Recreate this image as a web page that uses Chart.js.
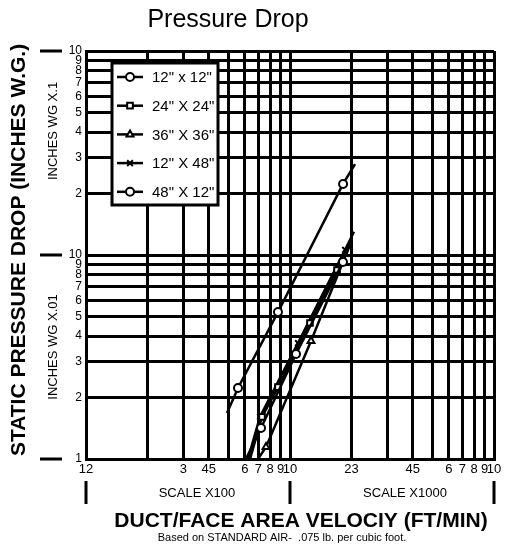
<!DOCTYPE html>
<html>
<head>
<meta charset="utf-8">
<title>Pressure Drop</title>
<script src="https://cdn.jsdelivr.net/npm/chart.js@4.4.0/dist/chart.umd.min.js"></script>
<style>
  html, body { margin: 0; padding: 0; background: #fff; }
</style>
</head>
<body>
<canvas id="chart" width="509" height="546"></canvas>
<script>
// series names and their marker shapes
var seriesNames = ['12" x 12"', '24" X 24"', '36" X 36"', '12" X 48"', '48" X 12"'];
var seriesMarkers = ['circle', 'rect', 'triangle', 'crossRot', 'circle'];

// velocity (ft/min) and pressure drop (in. w.g.)
// first and last point of each list are the ends of the drawn line (no marker)
var vel12x12 = [608, 721, 1070, 1818, 1946];
var dp12x12  = [0.0100, 0.0142, 0.0327, 0.0924, 0.112];

var vel24x24 = [637, 729, 873, 1253, 1700, 2014];
var dp24x24  = [0.0100, 0.0161, 0.0225, 0.0464, 0.0844, 0.122];

var vel36x36 = [697, 763, 1268, 1818, 1968];
var dp36x36  = [0.0100, 0.01145, 0.0379, 0.0924, 0.112];

var vel12x48 = [622, 713, 1094, 1862, 2059];
var dp12x48  = [0.0100, 0.0161, 0.0370, 0.106, 0.130];

var vel48x12 = [491, 556, 873, 1820, 2083];
var dp48x12  = [0.0168, 0.0223, 0.0525, 0.223, 0.279];

// log axis ticks and the labels printed under / beside them
var xTicks = [100, 200, 300, 400, 500, 600, 700, 800, 900, 1000,
              2000, 3000, 4000, 5000, 6000, 7000, 8000, 9000, 10000];
var xTickLabels = ['12', '', '3', '45', '', '6', '7', '8', '9', '10',
                   '23', '', '45', '', '6', '7', '8', '9', '10'];
var yTicks = [0.01, 0.02, 0.03, 0.04, 0.05, 0.06, 0.07, 0.08, 0.09, 0.1,
              0.2, 0.3, 0.4, 0.5, 0.6, 0.7, 0.8, 0.9, 1];
var yTickLabels = ['1', '2', '3', '4', '5', '6', '7', '8', '9', '10',
                   '2', '3', '4', '5', '6', '7', '8', '9', '10'];

var FONT = '"Liberation Sans", Arial, Helvetica, sans-serif';

function pts(xs, ys) {
  return xs.map(function(v, i) { return { x: v, y: ys[i] }; });
}

var allVel = [vel12x12, vel24x24, vel36x36, vel12x48, vel48x12];
var allDp  = [dp12x12, dp24x24, dp36x36, dp12x48, dp48x12];

var datasets = seriesNames.map(function(name, i) {
  return {
    label: name,
    data: pts(allVel[i], allDp[i]),
    borderColor: '#000',
    borderWidth: 2.5,
    backgroundColor: '#fff',
    pointStyle: seriesMarkers[i],
    pointBorderColor: '#000',
    pointBackgroundColor: '#fff',
    pointBorderWidth: 2,
    pointRadius: function(c) {
      var n = c.dataset.data.length;
      return (c.dataIndex === 0 || c.dataIndex === n - 1) ? 0 : 4;
    },
    tension: 0,
    fill: false
  };
});

function rotText(ctx, txt, x, y) {
  ctx.save();
  ctx.translate(x, y);
  ctx.rotate(-Math.PI / 2);
  ctx.fillText(txt, 0, 0);
  ctx.restore();
}

// texts, decade markers and the boxed legend
var extras = {
  id: 'extras',
  afterDraw: function(chart) {
    var ctx = chart.ctx, xs = chart.scales.x, ys = chart.scales.y;
    ctx.save();
    ctx.fillStyle = '#000';
    ctx.strokeStyle = '#000';
    ctx.textAlign = 'center';
    ctx.textBaseline = 'middle';

    ctx.font = '25px ' + FONT;
    ctx.fillText('Pressure Drop', 228, 20);

    ctx.font = 'bold 21px ' + FONT;
    rotText(ctx, 'STATIC PRESSURE DROP (INCHES W.G.)', 19, 250);
    ctx.fillText('DUCT/FACE AREA VELOCIY (FT/MIN)', 301, 521);

    ctx.font = '13px ' + FONT;
    rotText(ctx, 'INCHES WG X.1', 53, 131);
    rotText(ctx, 'INCHES WG X.01', 53, 347);
    ctx.fillText('SCALE X100', 197, 493);
    ctx.fillText('SCALE X1000', 405, 493);

    ctx.font = '11px ' + FONT;
    ctx.fillText('Based on STANDARD AIR-  .075 lb. per cubic foot.', 282, 538);

    // decade markers
    ctx.lineWidth = 3;
    [0.01, 0.1, 1].forEach(function(v) {
      var py = ys.getPixelForValue(v);
      ctx.beginPath(); ctx.moveTo(40, py); ctx.lineTo(62, py); ctx.stroke();
    });
    [100, 1000, 10000].forEach(function(v) {
      var px = xs.getPixelForValue(v);
      ctx.beginPath(); ctx.moveTo(px, 481); ctx.lineTo(px, 504); ctx.stroke();
    });

    // legend box
    var lx = 112, ly = 63, lw = 106, lh = 142;
    ctx.fillStyle = '#fff';
    ctx.fillRect(lx, ly, lw, lh);
    ctx.lineWidth = 3;
    ctx.strokeRect(lx, ly, lw, lh);
    ctx.textAlign = 'left';
    ctx.font = '15px ' + FONT;
    chart.data.datasets.forEach(function(ds, i) {
      var ry = 77 + i * 28.7;
      ctx.lineWidth = 2.5;
      ctx.strokeStyle = '#000';
      ctx.beginPath(); ctx.moveTo(117, ry); ctx.lineTo(143, ry); ctx.stroke();
      ctx.fillStyle = '#fff';
      ctx.lineWidth = 2;
      Chart.helpers.drawPoint(ctx, { pointStyle: ds.pointStyle, radius: 4, rotation: 0, borderWidth: 2 }, 130, ry);
      ctx.fillStyle = '#000';
      ctx.fillText(ds.label, 152, ry + 1);
    });
    ctx.restore();
  }
};

new Chart(document.getElementById('chart'), {
  type: 'line',
  data: { datasets: datasets },
  options: {
    responsive: false,
    animation: false,
    layout: { padding: { top: 51, right: 15, left: 0, bottom: 0 } },
    plugins: { legend: { display: false }, tooltip: { enabled: false } },
    scales: {
      x: {
        type: 'logarithmic',
        min: 100,
        max: 10000,
        afterBuildTicks: function(s) { s.ticks = xTicks.map(function(v) { return { value: v }; }); },
        afterFit: function(s) { s.height = 87; },
        ticks: {
          autoSkip: false, maxRotation: 0, minRotation: 0, padding: 3,
          color: '#000', font: { family: FONT, size: 13 },
          callback: function(v, i) { return xTickLabels[i]; }
        },
        grid: { color: '#000', lineWidth: 3, drawTicks: false },
        border: { color: '#000', width: 3 }
      },
      y: {
        type: 'logarithmic',
        min: 0.01,
        max: 1,
        afterBuildTicks: function(s) { s.ticks = yTicks.map(function(v) { return { value: v }; }); },
        afterFit: function(s) { s.width = 86; },
        ticks: {
          autoSkip: false, padding: 4,
          color: '#000', font: { family: FONT, size: 12 },
          callback: function(v, i) { return yTickLabels[i]; }
        },
        grid: { color: '#000', lineWidth: 3, drawTicks: false },
        border: { color: '#000', width: 3 }
      }
    }
  },
  plugins: [extras]
});
</script>
</body>
</html>
